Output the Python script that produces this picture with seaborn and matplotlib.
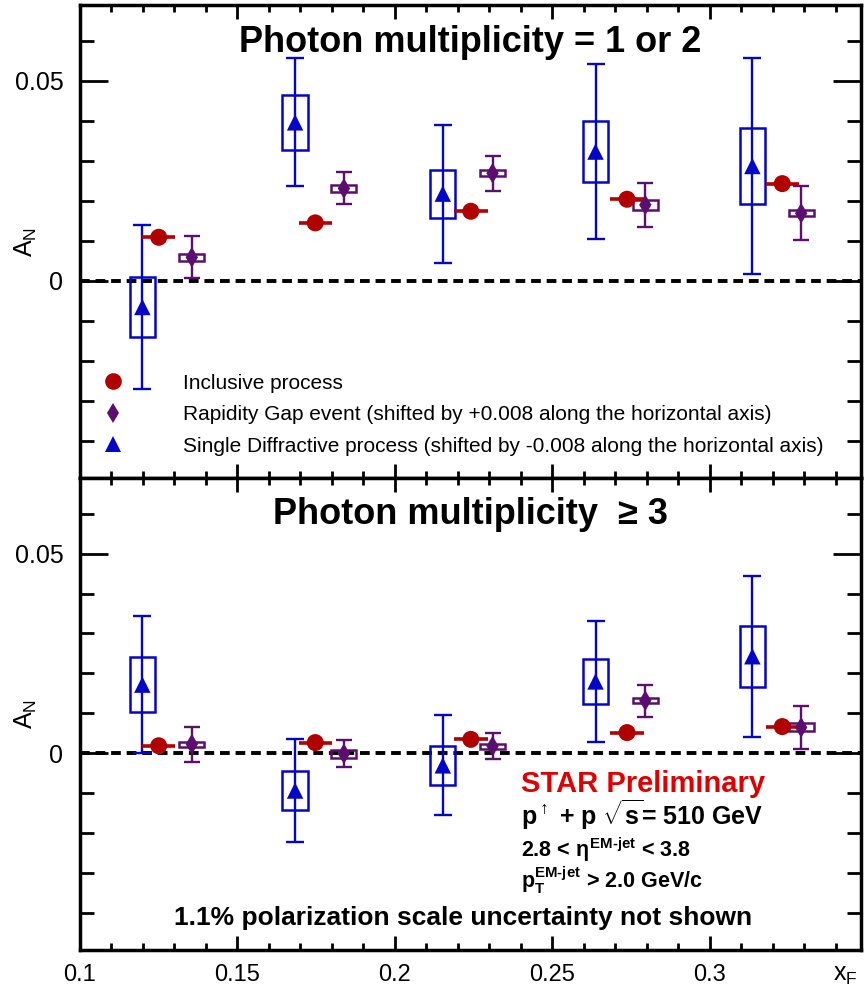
import matplotlib
matplotlib.use("Agg")
import matplotlib.pyplot as plt
from matplotlib.lines import Line2D
from matplotlib.ticker import MultipleLocator, FuncFormatter
import pandas as pd
import seaborn as sns

# ---------------- data: A_N vs x_F ----------------
x_incl = [0.1250, 0.1747, 0.2241, 0.2737, 0.3230]
x_rg = [0.1355, 0.1838, 0.2310, 0.2795, 0.3290]
x_sd = [0.1198, 0.1683, 0.2152, 0.2637, 0.3135]

# photon multiplicity = 1 or 2
low_incl = [0.0109, 0.0145, 0.0174, 0.0204, 0.0243]
low_rg = [0.0059, 0.0231, 0.0269, 0.0190, 0.0169]
low_rg_stat = [0.0052, 0.0040, 0.0044, 0.0055, 0.0068]
low_rg_sys = [0.0008, 0.0008, 0.00075, 0.0012, 0.0007]
low_sd = [-0.0065, 0.0396, 0.0218, 0.0323, 0.0287]
low_sd_stat = [0.0205, 0.0160, 0.0172, 0.0218, 0.0270]
low_sd_sys = [0.0075, 0.0069, 0.0060, 0.0076, 0.0095]

# photon multiplicity >= 3
high_incl = [0.0019, 0.0027, 0.0035, 0.0052, 0.0067]
high_rg = [0.0023, -0.0001, 0.0018, 0.0132, 0.0065]
high_rg_stat = [0.0044, 0.0034, 0.0033, 0.0040, 0.0053]
high_rg_sys = [0.0006, 0.0010, 0.0006, 0.0007, 0.0010]
high_sd = [0.0172, -0.0093, -0.0030, 0.0180, 0.0243]
high_sd_stat = [0.0172, 0.0130, 0.0125, 0.0151, 0.0201]
high_sd_sys = [0.0068, 0.0049, 0.0048, 0.0056, 0.0076]

incl_xerr = 0.0053
box_width = 0.008

labels = [
    "Inclusive process",
    "Rapidity Gap event (shifted by +0.008 along the horizontal axis)",
    "Single Diffractive process (shifted by -0.008 along the horizontal axis)",
]

c_incl = "#B00000"
c_rg = "#5C0E6E"
c_sd = "#0505C8"
c_star = "#DD0000"

sns.set_theme(style="ticks")
plt.rcParams["font.family"] = ["Liberation Sans", "DejaVu Sans"]
plt.rcParams["text.color"] = "black"
plt.rcParams["axes.labelcolor"] = "black"
plt.rcParams["xtick.color"] = "black"
plt.rcParams["ytick.color"] = "black"
plt.rcParams["mathtext.fontset"] = "custom"
plt.rcParams["mathtext.rm"] = "Liberation Sans:bold"
plt.rcParams["mathtext.it"] = "Liberation Sans:bold"
plt.rcParams["mathtext.bf"] = "Liberation Sans:bold"
plt.rcParams["mathtext.sf"] = "Liberation Sans"

W, H = 867, 992
fig = plt.figure(figsize=(W / 100, H / 100), dpi=100)
ax1 = fig.add_axes([80 / W, 1 - 478 / H, 781 / W, 473 / H])
ax2 = fig.add_axes([80 / W, 1 - 950 / H, 781 / W, 472 / H])


def draw_panel(ax, incl, rg, rg_stat, rg_sys, sd, sd_stat, sd_sys):
    ax.axhline(0, color="black", lw=2.8, dashes=(2.5, 1.5), zorder=1)
    # systematic uncertainty boxes
    ax.bar(x_sd, [2 * s for s in sd_sys], bottom=[v - s for v, s in zip(sd, sd_sys)],
           width=box_width, fill=False, edgecolor=c_sd, linewidth=1.8, zorder=2)
    ax.bar(x_rg, [2 * s for s in rg_sys], bottom=[v - s for v, s in zip(rg, rg_sys)],
           width=box_width, fill=False, edgecolor=c_rg, linewidth=1.8, zorder=2)
    # statistical error bars
    ax.errorbar(x_sd, sd, yerr=sd_stat, fmt="none", ecolor=c_sd, elinewidth=1.7,
                capsize=6.8, capthick=1.7, zorder=3)
    ax.errorbar(x_rg, rg, yerr=rg_stat, fmt="none", ecolor=c_rg, elinewidth=1.7,
                capsize=6.0, capthick=1.7, zorder=3)
    ax.errorbar(x_incl, incl, xerr=incl_xerr, fmt="none", ecolor=c_incl,
                elinewidth=2.6, capsize=0, zorder=3)
    df = pd.DataFrame({
        "xF": x_incl + x_rg + x_sd,
        "AN": list(incl) + list(rg) + list(sd),
        "process": ["incl"] * 5 + ["rg"] * 5 + ["sd"] * 5,
    })
    sns.scatterplot(data=df, x="xF", y="AN", hue="process", style="process", size="process",
                    palette={"incl": c_incl, "rg": c_rg, "sd": c_sd},
                    markers={"incl": "o", "rg": "d", "sd": "^"},
                    sizes={"incl": 150, "rg": 110, "sd": 140},
                    linewidth=0, legend=False, ax=ax, zorder=4)

    ax.set_xlim(0.1, 0.348)
    ax.set_ylim(-0.0492, 0.0689)
    ax.xaxis.set_major_locator(MultipleLocator(0.05))
    ax.xaxis.set_minor_locator(MultipleLocator(0.01))
    ax.yaxis.set_major_locator(MultipleLocator(0.05))
    ax.yaxis.set_minor_locator(MultipleLocator(0.01))
    fmt = FuncFormatter(lambda v, p: "%g" % round(v, 4))
    ax.xaxis.set_major_formatter(fmt)
    ax.yaxis.set_major_formatter(fmt)
    ax.tick_params(axis="x", which="major", direction="in", length=10, width=2,
                   top=True, bottom=True, labelsize=17, pad=10, colors="black")
    ax.tick_params(axis="x", which="minor", direction="in", length=5, width=2,
                   top=True, bottom=True)
    ax.tick_params(axis="y", which="major", direction="in", length=20, width=2,
                   left=True, right=True, labelsize=18, pad=12, colors="black")
    ax.tick_params(axis="y", which="minor", direction="in", length=10, width=2,
                   left=True, right=True)
    for sp in ax.spines.values():
        sp.set_linewidth(2.5)
        sp.set_color("black")
        sp.set_visible(True)
    ax.set_xlabel("")
    ax.set_ylabel(r"$\mathsf{A_N}$", fontsize=18, rotation=90, color="black")
    ax.yaxis.set_label_coords(-0.052, 0.5)


draw_panel(ax1, low_incl, low_rg, low_rg_stat, low_rg_sys, low_sd, low_sd_stat, low_sd_sys)
draw_panel(ax2, high_incl, high_rg, high_rg_stat, high_rg_sys, high_sd, high_sd_stat, high_sd_sys)
ax1.tick_params(labelbottom=False)

ax1.text(0.5, 0.9, "Photon multiplicity = 1 or 2", transform=ax1.transAxes,
         ha="center", va="baseline", fontsize=26, fontweight="bold", color="black")
ax2.text(0.5, 0.9025, "Photon multiplicity  \u2265 3", transform=ax2.transAxes,
         ha="center", va="baseline", fontsize=26, fontweight="bold", color="black")

handles = [
    Line2D([], [], ls="none", marker="o", color=c_incl, ms=12, mew=0),
    Line2D([], [], ls="none", marker="d", color=c_rg, ms=10, mew=0),
    Line2D([], [], ls="none", marker="^", color=c_sd, ms=12, mew=0),
]
leg = ax1.legend(handles, labels, loc="upper left", bbox_to_anchor=(0.005, 0.238),
                 frameon=False, fontsize=15, handlelength=2, handletextpad=2.37,
                 labelspacing=0.6, borderpad=0.4, borderaxespad=0)
for t in leg.get_texts():
    t.set_color("black")

# annotations in the lower panel
ax2.text(0.5647, 0.3354, "STAR Preliminary", transform=ax2.transAxes, color=c_star,
         ha="left", va="baseline", fontsize=21, fontweight="bold")
ax2.text(0.5647, 0.2648, r"p$^{\uparrow}$ + p $\sqrt{\mathrm{s}}$= 510 GeV", transform=ax2.transAxes,
         ha="left", va="baseline", fontsize=18, fontweight="bold", color="black")
ax2.text(0.5647, 0.1977, r"2.8 < $\eta^{\mathrm{EM\text{-}jet}}$ < 3.8", transform=ax2.transAxes,
         ha="left", va="baseline", fontsize=15.5, fontweight="bold", color="black")
ax2.text(0.5647, 0.1307, r"$\mathrm{p}_{\mathrm{T}}^{\mathrm{EM\text{-}jet}}$ > 2.0 GeV/c",
         transform=ax2.transAxes, ha="left", va="baseline", fontsize=15.5, fontweight="bold",
         color="black")
ax2.text(0.4904, 0.053, "1.1% polarization scale uncertainty not shown", transform=ax2.transAxes,
         ha="center", va="baseline", fontsize=19, fontweight="bold", color="black")

ax2.text(0.9795, -0.053, r"$\mathsf{x_F}$", transform=ax2.transAxes,
         ha="center", va="center", fontsize=18, color="black")

fig.savefig("out.png", dpi=100)
